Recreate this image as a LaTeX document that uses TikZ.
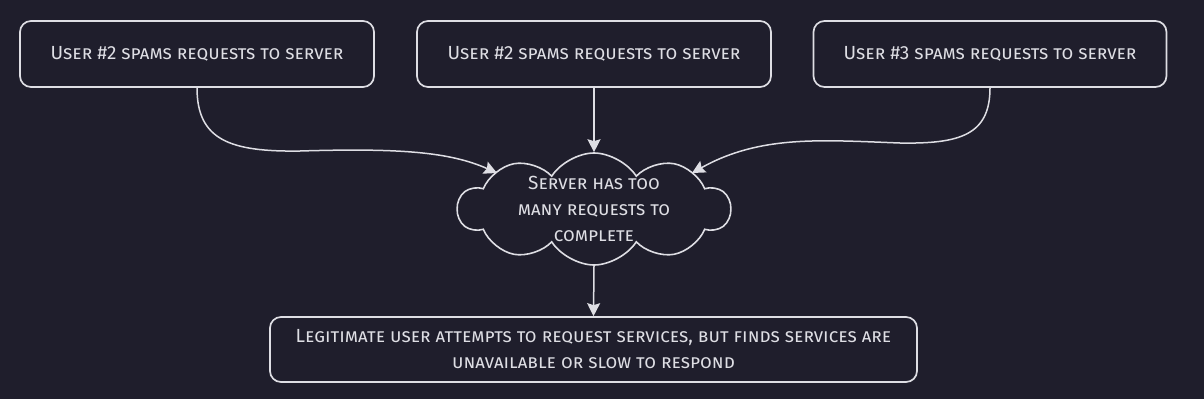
\documentclass[tikz,border=0pt]{standalone}
\usepackage{fontspec}
\setmainfont{Fira Sans}
\usetikzlibrary{shapes.symbols,arrows.meta}
\definecolor{bg}{RGB}{31,30,44}
\definecolor{ink}{RGB}{222,222,228}
\tikzset{
  box/.style={draw=ink, line width=1.7pt, rounded corners=11pt, text=ink,
    minimum height=66pt, align=center, font=\fontsize{19}{26}\selectfont\scshape},
  cloudbox/.style={cloud, cloud puffs=10, cloud puff arc=115, cloud ignores aspect,
    draw=ink, line width=1.6pt,
    text=ink, align=center, minimum width=272pt, minimum height=112pt,
    inner xsep=-22pt, inner ysep=-16pt,
    font=\fontsize{19}{26}\selectfont\scshape},
  conn/.style={draw=ink, line width=1.5pt, -{Stealth[length=13pt,width=13pt,inset=2pt]}},
}
\begin{document}
\begin{tikzpicture}[x=1pt,y=-1pt]
\fill[bg] (0,0) rectangle (1204,399);
\useasboundingbox (0,0) rectangle (1204,399);
\node[box, minimum width=354pt] (u1) at (197,54) {User \#2 spams requests to server};
\node[box, minimum width=354pt] (u2) at (594,54) {User \#2 spams requests to server};
\node[box, minimum width=353pt] (u3) at (990,54) {User \#3 spams requests to server};
\node[cloudbox] (srv) at (594,209) {Server has too\\many requests to\\complete};
\node[box, minimum width=647pt, minimum height=65pt] (leg) at (593.5,349.5) {Legitimate user attempts to request services, but finds services are\\unavailable or slow to respond};
\coordinate (e1) at (497,173);
\coordinate (e3) at (692,173);
\draw[conn] (u1.south) .. controls (197,140) and (230,152) .. (300,151) .. controls (400,148) and (450,152) .. (e1);
\draw[conn] (u2.south) -- (srv.north);
\draw[conn] (u3.south) .. controls (990,135) and (960,144) .. (900,143) .. controls (820,140) and (760,135) .. (e3);
\draw[conn] (srv.south) -- (leg.north);
\end{tikzpicture}
\end{document}
